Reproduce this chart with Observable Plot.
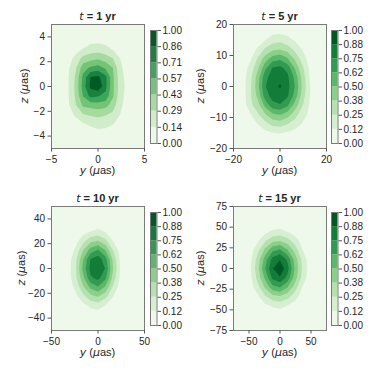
<!DOCTYPE html>
<html><head><meta charset="utf-8">
<script src="https://cdn.jsdelivr.net/npm/d3@7"></script>
<script src="https://cdn.jsdelivr.net/npm/@observablehq/plot@0.6"></script>
<style>
body{margin:0;background:#fff;}
#fig{position:relative;width:374px;height:374px;overflow:hidden;font-family:"Liberation Sans",Arial,sans-serif;color:#262626;}
.abs{position:absolute;white-space:nowrap;font-size:11px;line-height:11px;}
.m{font-family:"DejaVu Sans",sans-serif;font-style:italic;font-weight:normal;}
svg{position:absolute;}
</style></head><body><div id="fig"></div>
<script>
// ---------- data ----------
const titles = ["1 yr", "5 yr", "10 yr", "15 yr"];
const xDomains = [[-5, 5], [-20, 20], [-50, 50], [-75, 75]];
const zDomains = [[-5, 5], [-20, 20], [-50, 50], [-75, 75]];
const xTicks = [[-5, 0, 5], [-20, 0, 20], [-50, 0, 50], [-50, 0, 50]];
const zTicks = [[-4, -2, 0, 2, 4], [-20, -10, 0, 10, 20], [-40, -20, 0, 20, 40], [-75, -50, -25, 0, 25, 50, 75]];
const levels7 = [0, 1/7, 2/7, 3/7, 4/7, 5/7, 6/7, 1];
const levels8 = [0, 1/8, 2/8, 3/8, 4/8, 5/8, 6/8, 7/8, 1];
const labels7 = ["0.00", "0.14", "0.29", "0.43", "0.57", "0.71", "0.86", "1.00"];
const labels8 = ["0.00", "0.12", "0.25", "0.38", "0.50", "0.62", "0.75", "0.88", "1.00"];
// grid sample centres (first, last) along y (horizontal) and z (vertical, top->bottom)
const gridY = [[-4, 4], [-16, 16], [-40, 40], [-60, 60]];
const gridZ = [[4.5, -4.5], [18, -18], [45, -45], [67.5, -67.5]];
// normalised density, 11 columns x 13 rows, top row first
const density1 = [
  0,0,0,0,0,0,0,0,0,0,0,
  0,0,0.03,0.05,0.09,0.10,0.09,0.04,0.02,0,0,
  0,0.03,0.10,0.15,0.21,0.22,0.19,0.13,0.06,0.01,0,
  0.02,0.09,0.18,0.34,0.38,0.41,0.36,0.29,0.14,0.06,0,
  0.05,0.12,0.27,0.51,0.60,0.64,0.55,0.43,0.17,0.08,0.01,
  0.06,0.13,0.31,0.61,0.86,0.89,0.76,0.46,0.19,0.09,0.02,
  0.065,0.135,0.32,0.64,0.89,0.97,0.76,0.46,0.21,0.095,0.025,
  0.06,0.13,0.31,0.58,0.76,0.73,0.67,0.45,0.19,0.09,0.02,
  0.04,0.12,0.28,0.46,0.49,0.51,0.49,0.36,0.17,0.08,0.01,
  0.02,0.08,0.17,0.28,0.31,0.33,0.30,0.25,0.14,0.06,0,
  0,0.02,0.07,0.13,0.17,0.20,0.19,0.15,0.09,0.04,0,
  0,0,0.01,0.05,0.08,0.10,0.095,0.08,0.05,0.01,0,
  0,0,0,0,0,0.02,0,0,0,0,0
];
const density5 = [
  0,0.01,0.03,0.055,0.075,0.085,0.07,0.045,0.02,0,0,
  0,0.03,0.07,0.12,0.19,0.21,0.17,0.11,0.06,0.015,0,
  0.013,0.06,0.14,0.27,0.35,0.37,0.32,0.22,0.12,0.04,0.005,
  0.03,0.10,0.26,0.43,0.56,0.60,0.51,0.35,0.19,0.07,0.015,
  0.05,0.17,0.35,0.59,0.76,0.78,0.71,0.49,0.28,0.10,0.03,
  0.065,0.21,0.43,0.71,0.81,0.84,0.78,0.59,0.33,0.12,0.04,
  0.07,0.22,0.45,0.74,0.83,0.89,0.80,0.62,0.35,0.13,0.045,
  0.06,0.23,0.41,0.69,0.80,0.82,0.77,0.58,0.32,0.13,0.04,
  0.045,0.22,0.32,0.54,0.71,0.74,0.65,0.45,0.26,0.11,0.02,
  0.025,0.11,0.23,0.36,0.48,0.51,0.44,0.31,0.17,0.10,0.01,
  0.01,0.05,0.13,0.21,0.29,0.31,0.26,0.19,0.12,0.03,0,
  0,0.015,0.05,0.09,0.12,0.13,0.11,0.08,0.04,0.005,0,
  0,0,0.01,0.03,0.045,0.05,0.04,0.02,0.003,0,0
];
const density10 = [
  0,0,0,0,0,0,0,0,0,0,0,
  0,0,0,0.015,0.035,0.045,0.03,0.005,0,0,0,
  0,0,0.025,0.075,0.12,0.155,0.11,0.05,0.005,0,0,
  0,0.015,0.075,0.20,0.33,0.37,0.28,0.12,0.035,0,0,
  0,0.04,0.15,0.365,0.555,0.635,0.49,0.25,0.07,0,0,
  0.003,0.06,0.22,0.49,0.755,0.815,0.68,0.355,0.10,0.007,0,
  0.005,0.07,0.24,0.535,0.79,0.855,0.74,0.385,0.11,0.01,0,
  0.003,0.07,0.22,0.47,0.73,0.79,0.66,0.335,0.10,0.007,0,
  0,0.05,0.16,0.355,0.535,0.615,0.48,0.24,0.065,0,0,
  0,0.015,0.09,0.21,0.335,0.385,0.29,0.13,0.035,0,0,
  0,0,0.03,0.09,0.15,0.18,0.12,0.057,0.007,0,0,
  0,0,0.003,0.028,0.05,0.06,0.045,0.013,0,0,0,
  0,0,0,0,0.007,0.01,0.004,0,0,0,0
];
const density15 = [
  0,0,0,0,0,0,0,0,0,0,0,
  0,0,0.003,0.02,0.04,0.045,0.035,0.013,0,0,0,
  0,0.004,0.04,0.09,0.14,0.155,0.115,0.07,0.02,0,0,
  0,0.03,0.10,0.23,0.34,0.365,0.30,0.18,0.07,0.01,0,
  0.008,0.065,0.21,0.405,0.59,0.645,0.51,0.33,0.13,0.035,0,
  0.016,0.095,0.30,0.56,0.79,0.865,0.72,0.45,0.21,0.055,0.003,
  0.02,0.105,0.33,0.62,0.87,0.96,0.80,0.49,0.235,0.06,0.005,
  0.016,0.095,0.29,0.53,0.78,0.86,0.71,0.44,0.21,0.05,0.003,
  0.007,0.06,0.21,0.395,0.585,0.635,0.51,0.32,0.12,0.035,0,
  0,0.03,0.10,0.23,0.34,0.365,0.30,0.18,0.07,0.01,0,
  0,0.005,0.04,0.095,0.14,0.165,0.12,0.07,0.02,0,0,
  0,0,0.007,0.025,0.045,0.05,0.04,0.016,0,0,0,
  0,0,0,0,0.003,0.005,0,0,0,0,0
];
const densities = [density1, density5, density10, density15];
const levelSets = [levels7, levels8, levels8, levels8];
const labelSets = [labels7, labels8, labels8, labels8];

// ---------- style / layout ----------
const GREENS = ["#f7fcf5","#e5f5e0","#c7e9c0","#a1d99b","#74c476","#41ab5d","#238b45","#006d2c","#00441b"];
const greens = d3.piecewise(d3.interpolateRgb, GREENS);
const layout = [
  {ox: 0,   oy: 0,   ml: 51, mt: 24, cbx: 150,   cby: 30,    ylx: 24},
  {ox: 187, oy: 0,   ml: 46, mt: 24, cbx: 331.3, cby: 30,    ylx: 12.5},
  {ox: 0,   oy: 187, ml: 51, mt: 19, cbx: 150,   cby: 211.5, ylx: 20.5},
  {ox: 187, oy: 187, ml: 46, mt: 19, cbx: 331.3, cby: 212,   ylx: 12.5}
];
const PW = 93, PH = 124, CBW = 6.5, CBH = 113;
const FONT = '"Liberation Sans", Arial, sans-serif';
const fmt = d => (d < 0 ? "\u2212" : "") + Math.abs(d);
const fig = document.getElementById("fig");

function addDiv(html, css) {
  const el = document.createElement("div");
  el.className = "abs";
  el.innerHTML = html;
  Object.assign(el.style, css);
  fig.appendChild(el);
}

for (let p = 0; p < 4; p++) {
  const L = layout[p];
  const levels = levelSets[p], labels = labelSets[p];
  const nb = levels.length - 1;
  const bandColors = d3.range(nb).map(k => greens((k + 0.5) / nb));
  const thresholds = levels.slice(1, -1);
  const grid = densities[p];
  const gw = 11, gh = grid.length / gw;
  const dx = (gridY[p][1] - gridY[p][0]) / (gw - 1);
  const dz = (gridZ[p][1] - gridZ[p][0]) / (gh - 1);

  const chart = Plot.plot({
    width: 187, height: 187,
    marginLeft: L.ml, marginRight: 187 - L.ml - PW,
    marginTop: L.mt, marginBottom: 187 - L.mt - PH,
    x: {domain: xDomains[p]},
    y: {domain: zDomains[p]},
    color: {type: "threshold", domain: thresholds, range: bandColors},
    style: {fontFamily: FONT, fontSize: "10px", color: "#262626", background: "transparent", overflow: "visible"},
    marks: [
      Plot.frame({fill: bandColors[0]}),
      Plot.contour(grid, {
        width: gw, height: gh,
        x1: gridY[p][0] - dx / 2, x2: gridY[p][1] + dx / 2,
        y1: gridZ[p][0] - dz / 2, y2: gridZ[p][1] + dz / 2,
        thresholds, fill: Plot.identity, stroke: "none"
      }),
      Plot.frame({stroke: "#7a7a7a", strokeWidth: 1}),
      Plot.axisX({ticks: xTicks[p], tickFormat: fmt, tickSize: 3.5, tickPadding: 4, label: null, stroke: "#555", fontSize: 10}),
      Plot.axisY({ticks: zTicks[p], tickFormat: fmt, tickSize: 3.5, tickPadding: 3, label: null, stroke: "#555", fontSize: 10})
    ]
  });
  chart.style.left = L.ox + "px";
  chart.style.top = L.oy + "px";
  fig.appendChild(chart);

  const cb = Plot.plot({
    width: 1 + CBW + 34, height: CBH + 20,
    marginLeft: 1, marginRight: 34, marginTop: 10, marginBottom: 10,
    x: {domain: [0, 1], axis: null},
    y: {domain: [0, 1]},
    color: {type: "threshold", domain: thresholds, range: bandColors},
    style: {fontFamily: FONT, fontSize: "10px", color: "#262626", background: "transparent", overflow: "visible"},
    marks: [
      Plot.rect(d3.range(nb), {x1: () => 0, x2: () => 1, y1: k => levels[k], y2: k => levels[k + 1], fill: k => levels[k]}),
      Plot.frame({stroke: "#7a7a7a", strokeWidth: 1}),
      Plot.axisY({anchor: "right", ticks: levels, tickFormat: d => labels[levels.indexOf(d)], tickSize: 3.5, tickPadding: 2, label: null, stroke: "#555", fontSize: 10})
    ]
  });
  cb.style.left = (L.cbx - 1) + "px";
  cb.style.top = (L.cby - 10) + "px";
  fig.appendChild(cb);

  const cx = L.ox + L.ml + PW / 2;
  const top = L.oy + L.mt, bottom = top + PH;
  addDiv('<span class="m">t</span> = ' + titles[p], {left: cx + "px", top: (top - 13.5) + "px", transform: "translateX(-50%)", fontWeight: "bold"});
  addDiv('<span class="m">y</span> (<span class="m">\u03bc</span>as)', {left: cx + "px", top: (bottom + 17) + "px", transform: "translateX(-50%)"});
  addDiv('<span class="m">z</span> (<span class="m">\u03bc</span>as)', {left: (L.ox + L.ylx) + "px", top: (top + PH / 2) + "px", transform: "translate(-50%,-50%) rotate(-90deg)"});
}
</script>
</body></html>
